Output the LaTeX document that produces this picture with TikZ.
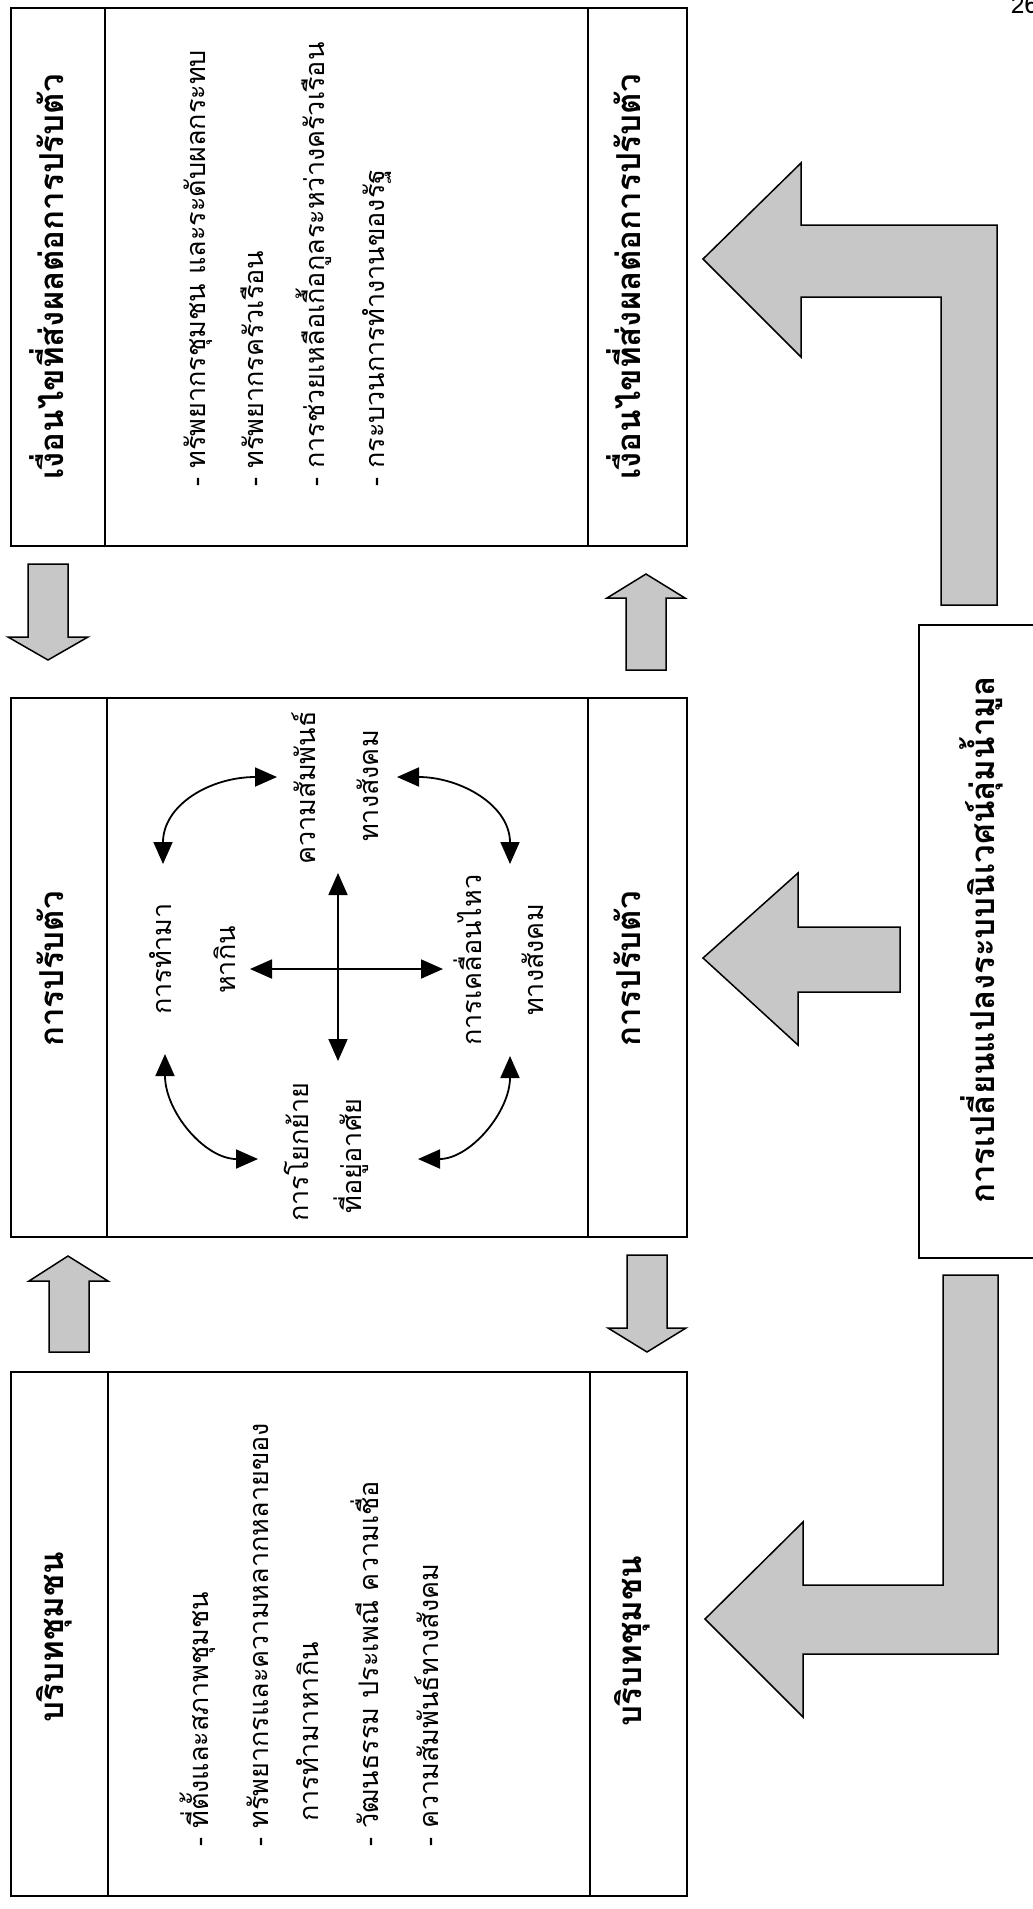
\documentclass[tikz,border=0pt]{standalone}
\usepackage{fontspec}
\newfontfamily\thaifont[Script=Thai]{Loma}
\usetikzlibrary{arrows.meta}
\begin{document}
\begin{tikzpicture}[x=1pt,y=-1pt,
  box/.style={draw, line width=1.6pt, rectangle, inner sep=0pt, anchor=north west},
  divider/.style={line width=1.6pt},
  hdr/.style={font=\thaifont\bfseries\fontsize{33}{38}\selectfont, rotate=90, anchor=base, inner sep=0pt},
  bodytext/.style={font=\thaifont\fontsize{27}{32}\selectfont, rotate=90, anchor=base west, inner sep=0pt},
  lbl/.style={font=\thaifont\fontsize{27}{32}\selectfont, rotate=90, anchor=base, inner sep=0pt},
  fat/.style={draw, line width=1.5pt, fill=black!22, line join=miter},
  dbl/.style={line width=1.8pt, {Triangle[length=22pt,width=19pt]}-{Triangle[length=22pt,width=19pt]}}
]
\fill[white] (0,0) rectangle (1033,1909);
\useasboundingbox (0,0) rectangle (1033,1909);

% page number
\node[font=\thaifont\fontsize{24}{24}\selectfont, anchor=base west, inner sep=0pt] (pg) at (1011,13) {26};

% ---- box A : conditions
\node[box, minimum width=676pt, minimum height=538pt] (A) at (10,7) {};
\draw[divider] (105,7) -- (105,545);
\draw[divider] (588,7) -- (588,545);
\node[hdr] (Ah1) at (63,277) {เงื่อนไขที่ส่งผลต่อการปรับตัว};
\node[hdr] (Ah2) at (640,277) {เงื่อนไขที่ส่งผลต่อการปรับตัว};
\node[bodytext] (A1) at (205,487) {- ทรัพยากรชุมชน และระดับผลกระทบ};
\node[bodytext] (A2) at (263,487) {- ทรัพยากรครัวเรือน};
\node[bodytext] (A3) at (324,487) {- การช่วยเหลือเกื้อกูลระหว่างครัวเรือน};
\node[bodytext] (A4) at (384,487) {- กระบวนการทำงานของรัฐ};

% ---- box B : adaptation
\node[box, minimum width=676pt, minimum height=539pt] (B) at (10,697) {};
\draw[divider] (107,697) -- (107,1236);
\draw[divider] (588,697) -- (588,1236);
\node[hdr] (Bh1) at (63,969) {การปรับตัว};
\node[hdr] (Bh2) at (640,969) {การปรับตัว};

\node[lbl] (L1a) at (171,959) {การทำมา};
\node[lbl] (L1b) at (235,960) {หากิน};
\node[lbl] (L2a) at (315,788) {ความสัมพันธ์};
\node[lbl] (L2b) at (378,786) {ทางสังคม};
\node[lbl] (L3a) at (481,960) {การเคลื่อนไหว};
\node[lbl] (L3b) at (543,960) {ทางสังคม};
\node[lbl] (L4a) at (308,1152) {การโยกย้าย};
\node[lbl] (L4b) at (361,1156) {ที่อยู่อาศัย};

\coordinate (cxT) at (338,873);
\coordinate (cxB) at (338,1061);
\coordinate (cxL) at (250,969);
\coordinate (cxR) at (443,969);
\draw[dbl] (cxT) -- (cxB);
\draw[dbl] (cxL) -- (cxR);

\coordinate (p1) at (163,864);
\coordinate (p2) at (277,777);
\coordinate (q1) at (397,777);
\coordinate (q2) at (510,864);
\coordinate (r1) at (165,1054);
\coordinate (r2) at (258,1159);
\coordinate (s1) at (418,1159);
\coordinate (s2) at (510,1056);
\draw[dbl] (p1) .. controls (163,805) and (210,777) .. (p2);
\draw[dbl] (q1) .. controls (460,777) and (510,805) .. (q2);
\draw[dbl] (r1) .. controls (165,1112) and (205,1159) .. (r2);
\draw[dbl] (s1) .. controls (470,1159) and (510,1112) .. (s2);

% ---- box C : community context
\node[box, minimum width=676pt, minimum height=524pt] (C) at (10,1371) {};
\draw[divider] (108,1371) -- (108,1895);
\draw[divider] (590,1371) -- (590,1895);
\node[hdr] (Ch1) at (63,1637) {บริบทชุมชน};
\node[hdr] (Ch2) at (641,1641) {บริบทชุมชน};
\node[bodytext] (C1) at (208,1847) {- ที่ตั้งและสภาพชุมชน};
\node[bodytext] (C2) at (268,1847) {- ทรัพยากรและความหลากหลายของ};
\node[bodytext] (C3) at (318,1822) {การทำมาหากิน};
\node[bodytext] (C4) at (378,1847) {- วัฒนธรรม ประเพณี ความเชื่อ};
\node[bodytext] (C5) at (438,1847) {- ความสัมพันธ์ทางสังคม};

% ---- box D : ecological change
\node[box, minimum width=130pt, minimum height=633pt] (D) at (918,624) {};
\node[hdr] (Dh) at (994,940) {การเปลี่ยนแปลงระบบนิเวศน์ลุ่มน้ำมูล};

% ---- small block arrows
\draw[fat] (28,564) -- (68,564) -- (68,637) -- (88,637) -- (48,660) -- (8,637) -- (28,637) -- cycle;
\draw[fat] (646,574) -- (685,598) -- (666,598) -- (666,670) -- (626,670) -- (626,598) -- (607,598) -- cycle;
\draw[fat] (68,1256) -- (108,1281) -- (89,1281) -- (89,1352) -- (49,1352) -- (49,1281) -- (29,1281) -- cycle;
\draw[fat] (627,1255) -- (667,1255) -- (667,1328) -- (686,1328) -- (647,1352) -- (608,1328) -- (627,1328) -- cycle;

% ---- big block arrows
\draw[fat] (703,259) -- (801,163) -- (801,225) -- (997,225) -- (997,605) -- (941,605) -- (941,297) -- (801,297) -- (801,357) -- cycle;
\draw[fat] (703,958) -- (798,873) -- (798,927) -- (900,927) -- (900,992) -- (798,992) -- (798,1045) -- cycle;
\draw[fat] (705,1619) -- (803,1522) -- (803,1585) -- (943,1585) -- (943,1275) -- (998,1275) -- (998,1654) -- (803,1654) -- (803,1717) -- cycle;
\end{tikzpicture}
\end{document}
